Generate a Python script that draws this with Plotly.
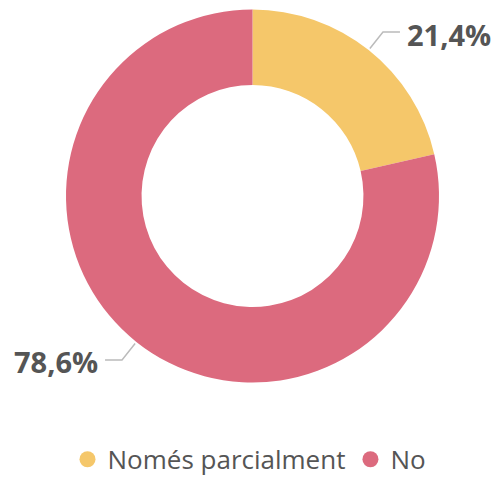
import math
import plotly.graph_objects as go

labels = ["Només parcialment", "No"]
values = [21.4, 78.6]
colors = ["#F5C76A", "#DC6A7E"]

W, H = 499, 477
CX, CY, R = 252.5, 196, 186.5  # pixel geometry of the donut
HOLE = 0.595

fig = go.Figure()
fig.add_trace(go.Pie(
    labels=labels, values=values, hole=HOLE, sort=False, direction="clockwise",
    rotation=0, marker=dict(colors=colors, line=dict(width=0)),
    textinfo="none", hoverinfo="label+percent", showlegend=False,
    domain=dict(x=[(CX - R) / W, (CX + R) / W], y=[(H - CY - R) / H, (H - CY + R) / H]),
))

for lab, col in zip(labels, colors):
    fig.add_trace(go.Scatter(x=[None], y=[None], mode="markers", name=lab,
                             marker=dict(color=col, size=16, symbol="circle")))

def px(x, y):
    return x / W, (H - y) / H

total = sum(values)
cum = 0
shapes, annos = [], []
for v in values:
    mid = (cum + v / 2) / total * 2 * math.pi
    cum += v
    s, c = math.sin(mid), math.cos(mid)
    x0, y0 = CX + (R + 2) * s, CY - (R + 2) * c
    x1, y1 = CX + (R + 23) * s, CY - (R + 23) * c
    side = 1 if s >= 0 else -1
    x2 = x1 + side * 17
    path = "M {} {} L {} {} L {} {}".format(*px(x0, y0), *px(x1, y1), *px(x2, y1))
    shapes.append(dict(type="path", xref="paper", yref="paper", path=path,
                       line=dict(color="#BBBBBB", width=1.5)))
    txt = ("{:.1f}%".format(v / total * 100)).replace(".", ",")
    ax, ay = px(x2 + side * 5, y1 + 2)
    annos.append(dict(xref="paper", yref="paper", x=ax, y=ay, text="<b>" + txt + "</b>",
                      showarrow=False, xanchor="left" if side > 0 else "right",
                      yanchor="middle", font=dict(size=29, color="#555555",
                                                  family="Open Sans")))

fig.update_layout(
    width=W, height=H, margin=dict(l=0, r=0, t=0, b=0, autoexpand=False),
    paper_bgcolor="white", plot_bgcolor="white",
    xaxis=dict(visible=False), yaxis=dict(visible=False),
    shapes=shapes, annotations=annos,
    legend=dict(orientation="h", x=0.5, xanchor="center", y=0.037, yanchor="middle",
                font=dict(size=26, color="#555555", family="Open Sans"),
                itemwidth=30, tracegroupgap=0),
    font=dict(family="Open Sans"),
)

fig.write_html("out.html", config={"displayModeBar": False},
               post_script="document.body.style.margin='0';")
